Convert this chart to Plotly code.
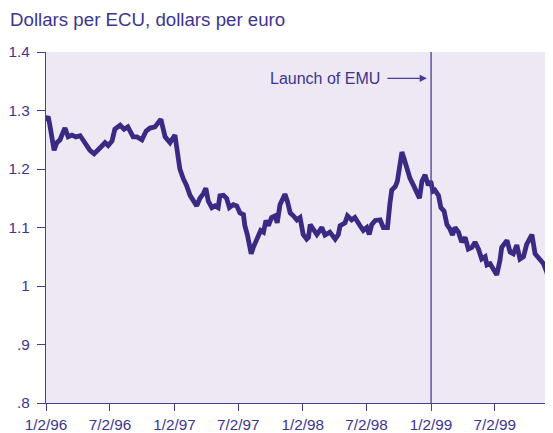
import plotly.graph_objects as go

dates = [
    "1996-01-02", "1996-01-08", "1996-01-13", "1996-01-19", "1996-01-25", "1996-02-02",
    "1996-02-11", "1996-02-19", "1996-02-25", "1996-03-05", "1996-03-16", "1996-03-27",
    "1996-04-08", "1996-04-16", "1996-04-25", "1996-05-06", "1996-05-18", "1996-05-26",
    "1996-06-07", "1996-06-18", "1996-06-27", "1996-07-08", "1996-07-16", "1996-07-31",
    "1996-08-11", "1996-08-22", "1996-09-06", "1996-09-17", "1996-10-01", "1996-10-13",
    "1996-10-24", "1996-11-07", "1996-11-24", "1996-12-06", "1996-12-20", "1997-01-03",
    "1997-01-13", "1997-01-17", "1997-01-27", "1997-02-05", "1997-02-15", "1997-02-24",
    "1997-03-06", "1997-03-15", "1997-03-25", "1997-04-01", "1997-04-08", "1997-04-18",
    "1997-04-27", "1997-05-06", "1997-05-11", "1997-05-21", "1997-05-30", "1997-06-07",
    "1997-06-18", "1997-06-28", "1997-07-07", "1997-07-17", "1997-07-21", "1997-07-28",
    "1997-08-03", "1997-08-08", "1997-08-14", "1997-08-22", "1997-08-28", "1997-09-04",
    "1997-09-12", "1997-09-19", "1997-09-26", "1997-10-05", "1997-10-15", "1997-10-21",
    "1997-10-29", "1997-11-07", "1997-11-12", "1997-11-19", "1997-11-27", "1997-12-06",
    "1997-12-16", "1997-12-25", "1998-01-03", "1998-01-13", "1998-01-18", "1998-01-23",
    "1998-02-01", "1998-02-11", "1998-02-25", "1998-03-06", "1998-03-20", "1998-04-04",
    "1998-04-13", "1998-04-18", "1998-05-02", "1998-05-09", "1998-05-21", "1998-05-30",
    "1998-06-14", "1998-06-23", "1998-07-03", "1998-07-10", "1998-07-17", "1998-07-27",
    "1998-08-10", "1998-08-19", "1998-08-31", "1998-09-02", "1998-09-07", "1998-09-12",
    "1998-09-22", "1998-09-28", "1998-10-04", "1998-10-11", "1998-10-17", "1998-10-25",
    "1998-11-03", "1998-11-13", "1998-11-22", "1998-11-30", "1998-12-07", "1998-12-16",
    "1998-12-25", "1999-01-01", "1999-01-07", "1999-01-13", "1999-01-23", "1999-01-30",
    "1999-02-08", "1999-02-16", "1999-02-25", "1999-03-04", "1999-03-11", "1999-03-21",
    "1999-03-30", "1999-04-09", "1999-04-18", "1999-04-28", "1999-05-07", "1999-05-17",
    "1999-05-26", "1999-06-05", "1999-06-10", "1999-06-19", "1999-06-28", "1999-07-08",
    "1999-07-17", "1999-07-22", "1999-08-06", "1999-08-15", "1999-08-24", "1999-09-03",
    "1999-09-12", "1999-09-22", "1999-10-01", "1999-10-11", "1999-10-16", "1999-10-25",
    "1999-11-08", "1999-11-18", "1999-11-27", "1999-12-05", "1999-12-12",
]

rate = [
    1.282, 1.290, 1.275, 1.250, 1.232, 1.245,
    1.250, 1.262, 1.270, 1.255, 1.258, 1.255,
    1.257, 1.250, 1.240, 1.232, 1.226, 1.230,
    1.238, 1.245, 1.240, 1.248, 1.268, 1.275,
    1.268, 1.272, 1.255, 1.255, 1.250, 1.265,
    1.270, 1.272, 1.285, 1.255, 1.245, 1.258,
    1.223, 1.200, 1.183, 1.172, 1.155, 1.147,
    1.137, 1.150, 1.158, 1.167, 1.145, 1.134,
    1.137, 1.134, 1.154, 1.155, 1.150, 1.134,
    1.139, 1.137, 1.125, 1.122, 1.103, 1.088,
    1.071, 1.055, 1.066, 1.078, 1.088, 1.095,
    1.092, 1.112, 1.103, 1.117, 1.120, 1.108,
    1.139, 1.150, 1.157, 1.145, 1.125, 1.120,
    1.113, 1.117, 1.088, 1.080, 1.083, 1.105,
    1.095, 1.088, 1.100, 1.087, 1.092, 1.080,
    1.088, 1.103, 1.108, 1.120, 1.113, 1.117,
    1.103, 1.095, 1.100, 1.088, 1.105, 1.112,
    1.113, 1.100, 1.100, 1.122, 1.142, 1.164,
    1.170, 1.179, 1.206, 1.229, 1.218, 1.198,
    1.184, 1.172, 1.162, 1.150, 1.179, 1.190,
    1.172, 1.179, 1.162, 1.164, 1.155, 1.134,
    1.128, 1.105, 1.097, 1.087, 1.100, 1.092,
    1.075, 1.083, 1.063, 1.066, 1.075, 1.063,
    1.046, 1.050, 1.036, 1.038, 1.029, 1.019,
    1.044, 1.066, 1.078, 1.058, 1.055, 1.070,
    1.046, 1.050, 1.071, 1.080, 1.088, 1.055,
    1.046, 1.038, 1.024, 1.007, 1.021,
]

x_tick_vals = ["1996-01-02", "1996-07-02", "1997-01-02", "1997-07-02", "1998-01-02",
               "1998-07-02", "1999-01-02", "1999-07-02"]
x_tick_text = ["1/2/96", "7/2/96", "1/2/97", "7/2/97", "1/2/98", "7/2/98", "1/2/99", "7/2/99"]
y_tick_vals = [0.8, 0.9, 1.0, 1.1, 1.2, 1.3, 1.4]
y_tick_text = [".8", ".9", "1", "1.1", "1.2", "1.3", "1.4"]

launch_date = "1999-01-02"
subtitle = "Dollars per ECU, dollars per euro"
launch_label = "Launch of EMU"

LINE = "#3a2a84"
TEXT = "#3e3490"
AXIS = "#4a3d96"
FONT = "Liberation Sans, Arial, sans-serif"

fig = go.Figure()
fig.add_trace(go.Scatter(
    x=dates, y=rate, mode="lines",
    line=dict(color=LINE, width=4.8),
    hoverinfo="skip", showlegend=False,
))

fig.add_shape(type="line", xref="x", yref="paper", x0=launch_date, x1=launch_date,
              y0=0, y1=1, line=dict(color=AXIS, width=1.3))

fig.add_annotation(
    x="1998-12-21", y=1.355, xref="x", yref="y",
    text=launch_label, showarrow=True, ax=-102, ay=0, axref="pixel", ayref="pixel",
    arrowhead=2, arrowsize=1.1, arrowwidth=1.3, arrowcolor=AXIS,
    font=dict(family=FONT, size=16, color=TEXT), standoff=0, startstandoff=6,
)

fig.add_annotation(
    x=0, y=1, xref="paper", yref="paper", xanchor="left", yanchor="bottom",
    xshift=-38, yshift=20,
    text=subtitle, showarrow=False,
    font=dict(family=FONT, size=18.7, color=TEXT),
)

fig.update_layout(
    width=545, height=425,
    margin=dict(l=38, r=0, t=44, b=25),
    paper_bgcolor="white", plot_bgcolor="#ede8f3",
    font=dict(family=FONT, size=15, color=TEXT),
    xaxis=dict(
        type="date", range=["1996-01-02", "1999-12-15"],
        tickmode="array", tickvals=x_tick_vals, ticktext=x_tick_text,
        ticks="outside", ticklen=7, tickwidth=1.3, tickcolor=AXIS,
        showline=True, linecolor=AXIS, linewidth=1.3,
        showgrid=False, zeroline=False,
        tickfont=dict(family=FONT, size=15.3, color=TEXT),
    ),
    yaxis=dict(
        range=[0.8, 1.4],
        tickmode="array", tickvals=y_tick_vals, ticktext=y_tick_text,
        ticks="outside", ticklen=8, tickwidth=1.3, tickcolor=AXIS,
        showline=True, linecolor=AXIS, linewidth=1.3,
        showgrid=False, zeroline=False, ticklabelstandoff=4,
        tickfont=dict(family=FONT, size=15.3, color=TEXT),
    ),
)

fig.write_html("out.html")
